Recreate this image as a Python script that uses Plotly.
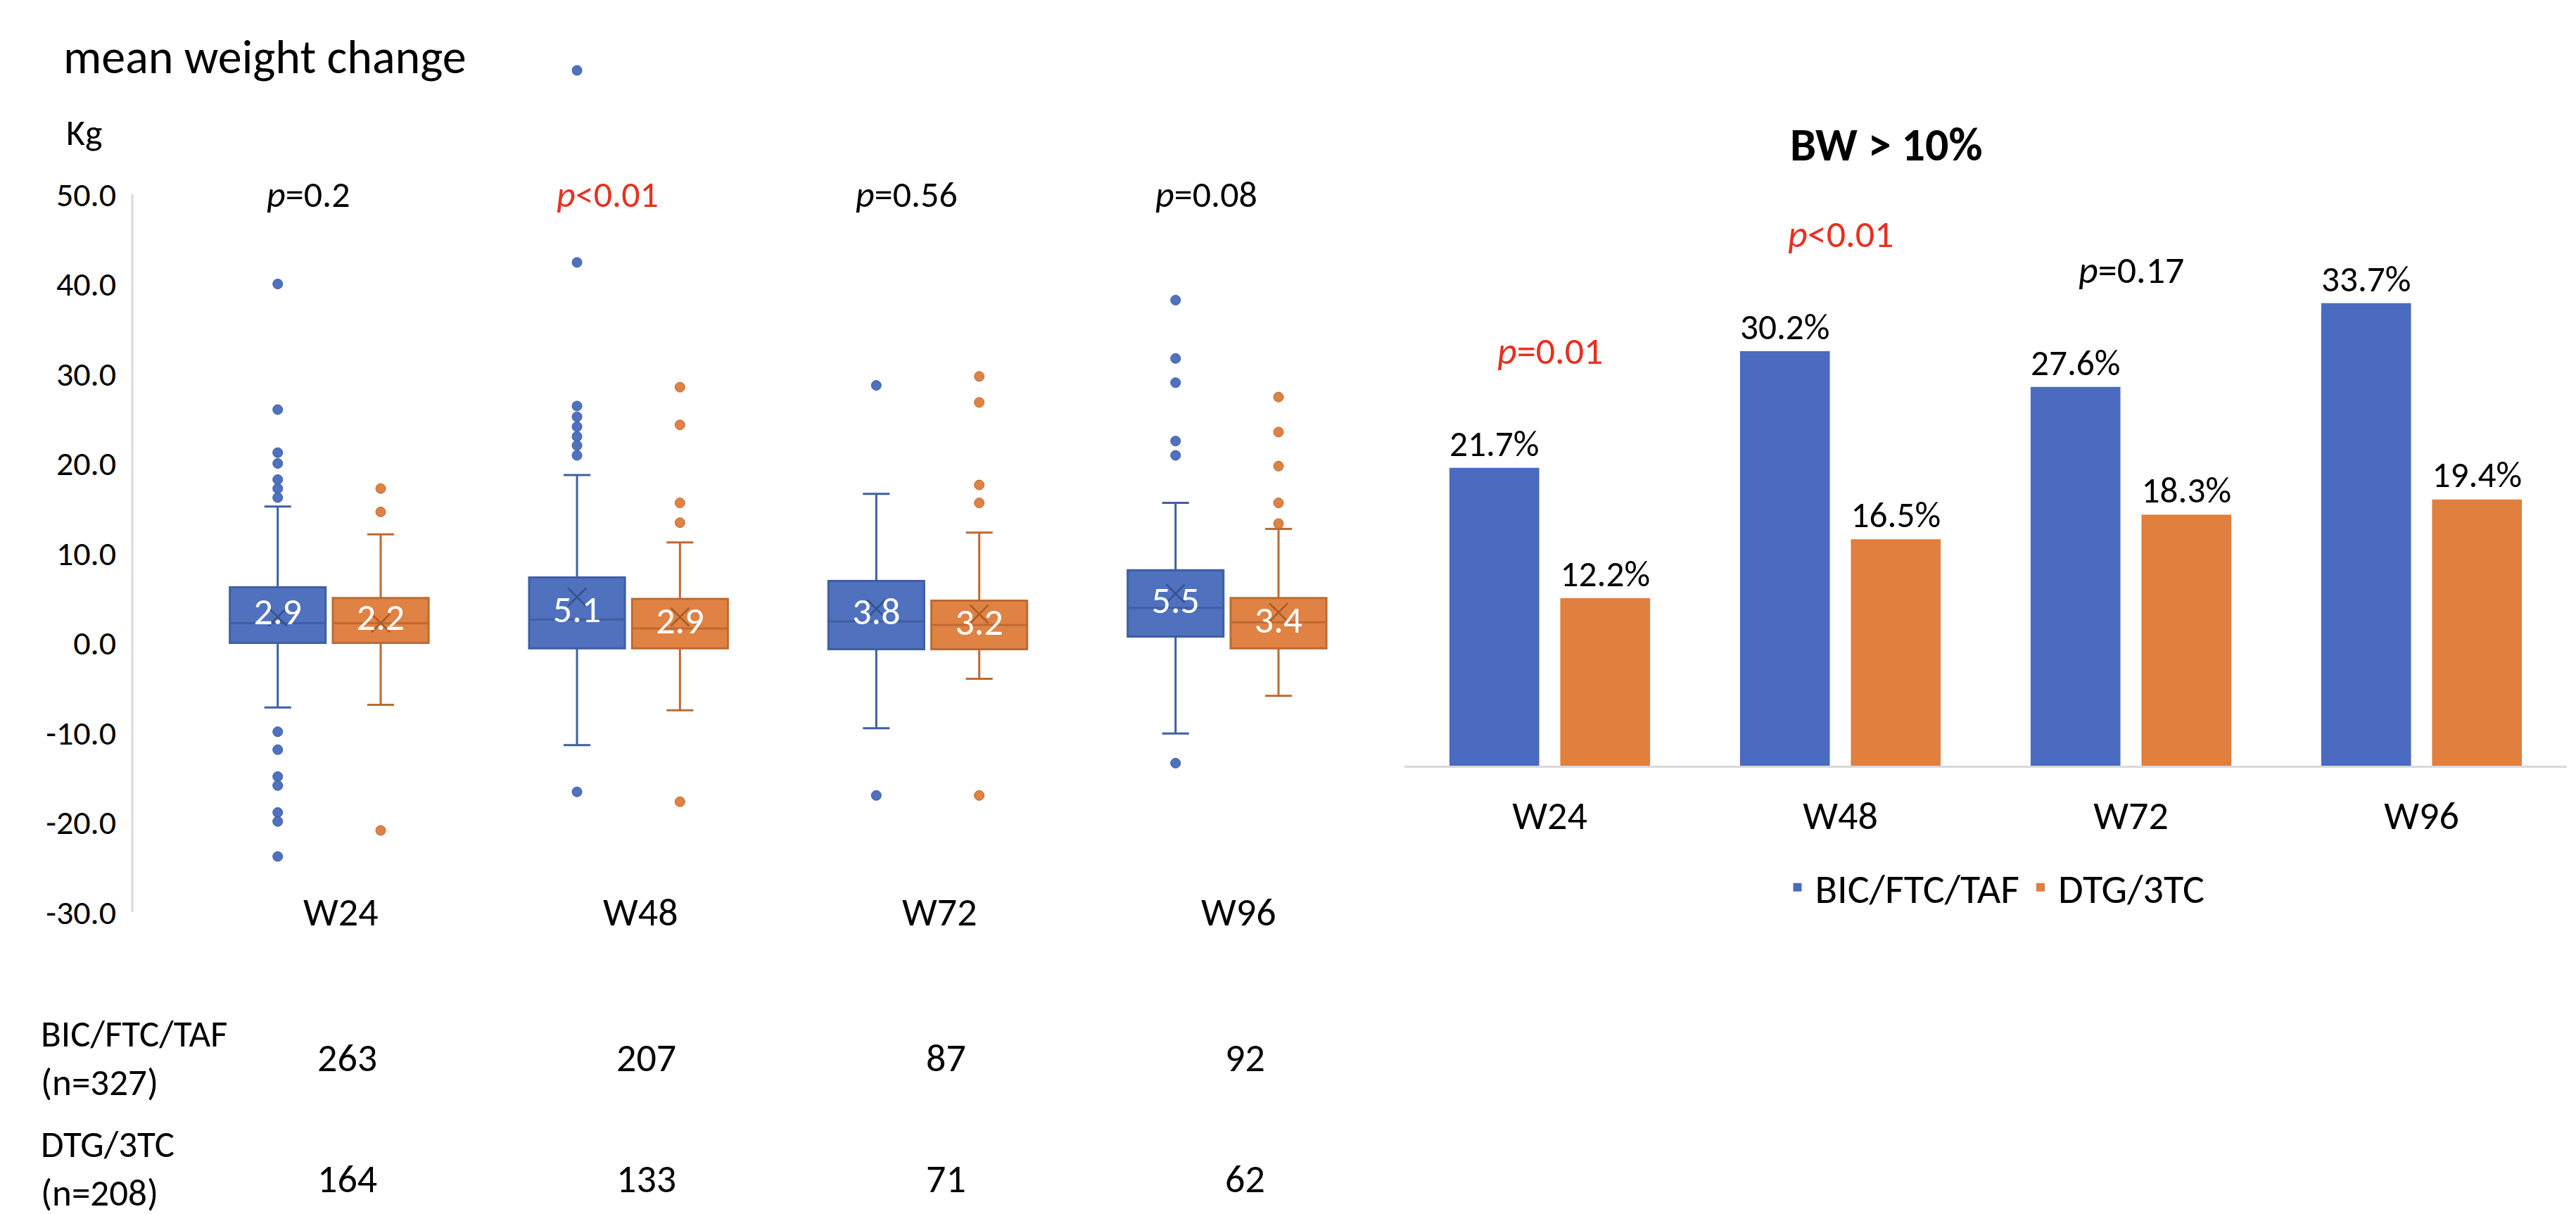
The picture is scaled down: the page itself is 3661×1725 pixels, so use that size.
import plotly.graph_objects as go

# ---------------- data ----------------
weeks = ["W24", "W48", "W72", "W96"]

# box-plot statistics (kg)
bic_q1 = [0.0, -0.6, -0.7, 0.7]
bic_median = [2.2, 2.6, 2.4, 3.9]
bic_q3 = [6.2, 7.3, 6.9, 8.1]
bic_lower = [-7.2, -11.4, -9.5, -10.1]
bic_upper = [15.2, 18.7, 16.6, 15.6]
bic_mean = [2.9, 5.1, 3.8, 5.5]
bic_outliers = [
    [40.0, 26.0, 21.2, 20.0, 18.2, 17.2, 16.2, -9.9, -11.9, -14.9, -15.9, -18.9, -19.9, -23.8],
    [63.8, 42.4, 26.4, 25.2, 24.1, 23.0, 22.0, 20.9, -16.6],
    [28.7, -17.0],
    [38.2, 31.7, 29.0, 22.5, 20.9, -13.4],
]

dtg_q1 = [0.0, -0.6, -0.7, -0.6]
dtg_median = [2.2, 1.6, 2.0, 2.3]
dtg_q3 = [5.0, 4.9, 4.7, 5.0]
dtg_lower = [-6.9, -7.5, -4.0, -5.9]
dtg_upper = [12.1, 11.2, 12.3, 12.7]
dtg_mean = [2.2, 2.9, 3.2, 3.4]
dtg_outliers = [
    [17.2, 14.6, -20.9],
    [28.5, 24.3, 15.6, 13.4, -17.7],
    [29.7, 26.8, 17.6, 15.6, -17.0],
    [27.4, 23.5, 19.7, 15.6, 13.3],
]

p_weight = ["=0.2", "<0.01", "=0.56", "=0.08"]
y_ticks = [50, 40, 30, 20, 10, 0, -10, -20, -30]

# BW > 10 % bars
bic_pct = [21.7, 30.2, 27.6, 33.7]
dtg_pct = [12.2, 16.5, 18.3, 19.4]
p_bw = ["=0.01", "<0.01", "=0.17", "=0.05"]

# numbers table
bic_n = [263, 207, 87, 92]
dtg_n = [164, 133, 71, 62]
row_labels = ["BIC/FTC/TAF<br>(n=327)", "DTG/3TC<br>(n=208)"]
series_names = ["BIC/FTC/TAF", "DTG/3TC"]

# ---------------- style ----------------
W, H = 3661, 1725
FONT = "Carlito, Calibri, Lato, sans-serif"
BLUE_FILL, BLUE_LINE, BLUE_DARK = "#4F71BE", "#3F5FA3", "#34508F"
ORANGE_FILL, ORANGE_LINE, ORANGE_DARK = "#DF8244", "#BE6A31", "#A85A26"
BAR_BLUE, BAR_ORANGE = "#4B6BC1", "#E07F3E"
RED = "#E8301F"
AXIS_GREY = "#D9D9D9"

# left panel geometry (pixels)
Y_BOTTOM_PX, PX_PER_KG = 1288, 12.75
Y_MIN, Y_MAX = -30, 66
y_top_px = Y_BOTTOM_PX - (Y_MAX - Y_MIN) * PX_PER_KG


def pcolor(p):
    return RED if float(p.lstrip("=<")) <= 0.01 else "black"


fig = go.Figure()
idx = list(range(len(weeks)))
OFF, BOXW = 0.172, 0.32

groups = [
    (bic_q1, bic_median, bic_q3, bic_lower, bic_upper, bic_mean, bic_outliers, -1,
     BLUE_FILL, BLUE_LINE, BLUE_DARK),
    (dtg_q1, dtg_median, dtg_q3, dtg_lower, dtg_upper, dtg_mean, dtg_outliers, 1,
     ORANGE_FILL, ORANGE_LINE, ORANGE_DARK),
]
for q1, med, q3, lo, hi, mean, outs, sign, fill, line, dark in groups:
    xs = [i + sign * OFF for i in idx]
    fig.add_trace(go.Box(
        x=xs, q1=q1, median=med, q3=q3, lowerfence=lo, upperfence=hi,
        width=BOXW, fillcolor=fill, line=dict(color=line, width=3),
        whiskerwidth=0.28, boxpoints=False, showlegend=False,
        hoverinfo="skip", xaxis="x", yaxis="y"))
    ox, oy = [], []
    for i, vals in enumerate(outs):
        ox += [xs[i]] * len(vals)
        oy += vals
    fig.add_trace(go.Scatter(
        x=ox, y=oy, mode="markers", showlegend=False,
        marker=dict(size=14, color=fill, line=dict(color=line, width=1)),
        hoverinfo="skip", xaxis="x", yaxis="y"))
    fig.add_trace(go.Scatter(
        x=xs, y=mean, mode="markers", showlegend=False, hoverinfo="skip",
        marker=dict(symbol="x-thin", size=26, line=dict(color=dark, width=2.5)),
        xaxis="x", yaxis="y"))
    fig.add_trace(go.Scatter(
        x=xs, y=[(a + b) / 2 for a, b in zip(q1, q3)], mode="text",
        text=[f"{m:.1f}" for m in mean], showlegend=False, hoverinfo="skip",
        textfont=dict(family=FONT, size=54, color="white"),
        xaxis="x", yaxis="y"))

# bars
for name, vals, col in [(series_names[0], bic_pct, BAR_BLUE), (series_names[1], dtg_pct, BAR_ORANGE)]:
    fig.add_trace(go.Bar(
        x=weeks, y=vals, name=name, marker=dict(color=col, line=dict(width=0)),
        texttemplate="%{y:.1f}%", textposition="outside", cliponaxis=False,
        textfont=dict(family=FONT, size=54, color="black"),
        xaxis="x2", yaxis="y2"))

ann = []
ann.append(dict(text="mean weight change", xref="paper", yref="paper", x=80 / W, y=1 - 72 / H,
                xanchor="left", yanchor="middle", showarrow=False,
                font=dict(family=FONT, size=68, color="black")))
ann.append(dict(text="Kg", xref="paper", yref="paper", x=84 / W, y=1 - 180 / H,
                xanchor="left", yanchor="middle", showarrow=False,
                font=dict(family=FONT, size=52, color="black")))
for i, p in enumerate(p_weight):
    ann.append(dict(text=f"<i>p</i>{p}", xref="x", yref="y", x=i - 0.07, y=50,
                    showarrow=False, yanchor="middle",
                    font=dict(family=FONT, size=52, color=pcolor(p))))
for i, w in enumerate(weeks):
    ann.append(dict(text=w, xref="x", yref="y", x=i + 0.04, y=-30, showarrow=False,
                    yanchor="middle", font=dict(family=FONT, size=56, color="black")))
for row, (nums, ypx_label, ypx_num) in enumerate([(bic_n, 1495, 1495), (dtg_n, 1652, 1667)]):
    ann.append(dict(text=row_labels[row], xref="paper", yref="paper", x=48 / W,
                    y=1 - ypx_label / H, xanchor="left", yanchor="middle", align="left",
                    showarrow=False, font=dict(family=FONT, size=53, color="black")))
    for i, n in enumerate(nums):
        ann.append(dict(text=str(n), xref="x", yref="paper", x=i + 0.06, y=1 - ypx_num / H,
                        showarrow=False, yanchor="middle",
                        font=dict(family=FONT, size=56, color="black")))
ann.append(dict(text="<b>BW > 10%</b>", xref="paper", yref="paper", x=2812 / W, y=1 - 197 / H,
                showarrow=False, yanchor="middle",
                font=dict(family=FONT, size=66, color="black")))
for w, p, b in zip(weeks, p_bw, bic_pct):
    ann.append(dict(text=f"<i>p</i>{p}", xref="x2", yref="y2", x=w, y=b + 8.5,
                    showarrow=False, yanchor="middle",
                    font=dict(family=FONT, size=54, color=pcolor(p))))

fig.update_layout(
    width=W, height=H, autosize=False, margin=dict(l=0, r=0, t=0, b=0, pad=0),
    paper_bgcolor="white", plot_bgcolor="white",
    font=dict(family=FONT, color="black"),
    boxmode="overlay", barmode="group", bargap=0.237, bargroupgap=0.19,
    xaxis=dict(domain=[180 / W, 1906 / W], range=[-0.658, 3.4], visible=False,
               anchor="y", automargin=False),
    yaxis=dict(domain=[1 - Y_BOTTOM_PX / H, 1 - y_top_px / H], range=[Y_MIN, Y_MAX],
               anchor="x", automargin=False,
               tickvals=y_ticks, ticktext=[f"{v:.1f}" for v in y_ticks],
               showline=False, showgrid=False, zeroline=False, ticks="",
               ticklabelstandoff=22,
               tickfont=dict(family=FONT, size=48, color="black")),
    xaxis2=dict(domain=[1988 / W, 3640 / W], anchor="y2", type="category", automargin=False,
                showline=True, linecolor=AXIS_GREY, linewidth=3, showgrid=False,
                ticks="", ticklabelstandoff=20,
                tickfont=dict(family=FONT, size=56, color="black")),
    yaxis2=dict(domain=[1 - 1080 / H, 1 - 300 / H], range=[0, 40], anchor="x2",
                visible=False, automargin=False),
    legend=dict(orientation="h", x=2826 / W, xanchor="center", y=1 - 1253 / H,
                yanchor="middle", font=dict(family=FONT, size=58, color="black"),
                itemwidth=40),
    shapes=[dict(type="line", xref="x domain", x0=0, x1=0, yref="y", y0=-30, y1=50,
                 line=dict(color=AXIS_GREY, width=3), layer="below")],
    annotations=ann,
    showlegend=True,
)

fig.write_html("out.html")
